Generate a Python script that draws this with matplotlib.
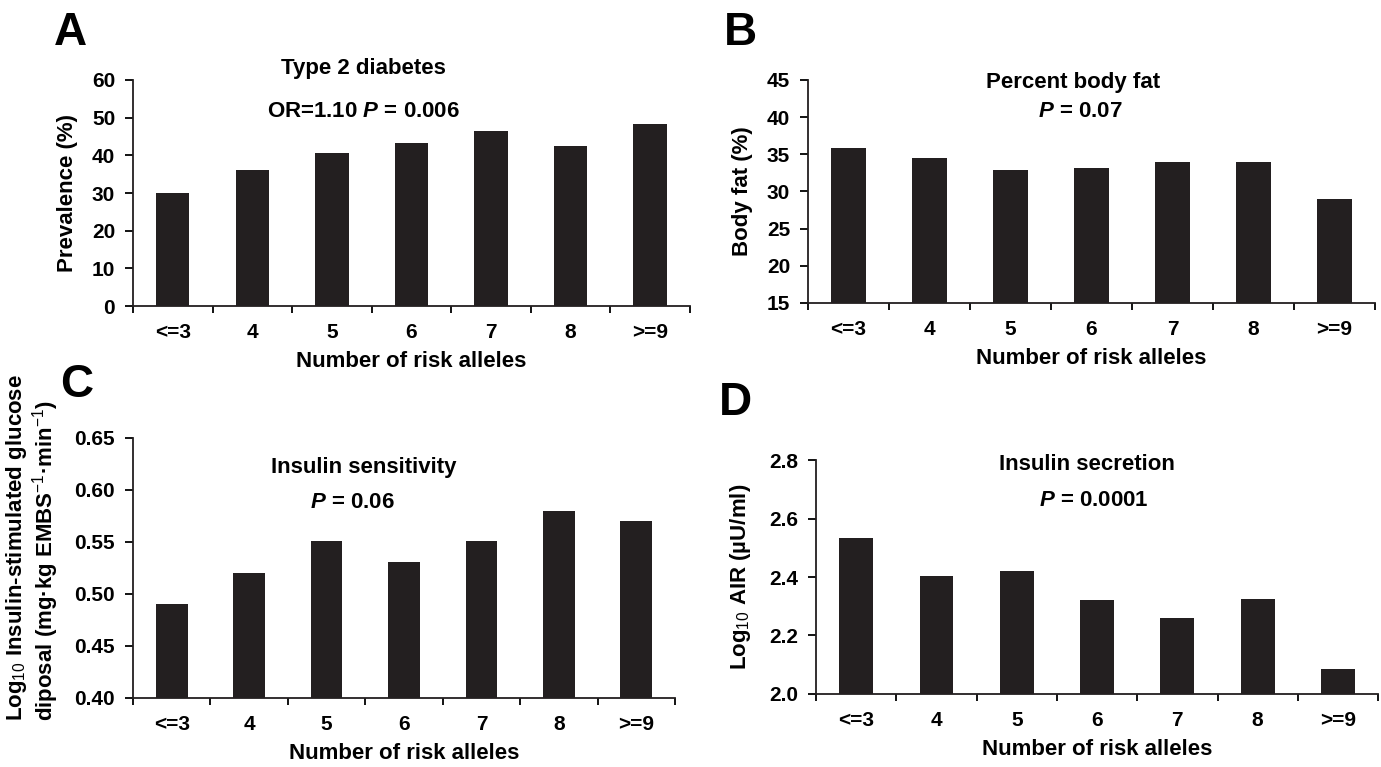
import matplotlib
matplotlib.use('Agg')
import matplotlib.pyplot as plt
import numpy as np
from matplotlib.ticker import FixedLocator, NullFormatter

# Data
categories = ['<=3', '4', '5', '6', '7', '8', '>=9']
diabetes_prev = [30.0, 36.0, 40.5, 43.3, 46.5, 42.4, 48.3]
body_fat = [35.8, 34.5, 32.9, 33.2, 33.9, 33.9, 29.0]
insulin_sens = [0.490, 0.520, 0.551, 0.531, 0.551, 0.580, 0.570]
insulin_secr = [2.535, 2.405, 2.420, 2.320, 2.260, 2.325, 2.085]

fam = ['Liberation Sans', 'DejaVu Sans']

plt.rcParams['mathtext.fontset'] = 'custom'
plt.rcParams['mathtext.rm'] = 'Liberation Sans'
plt.rcParams['mathtext.it'] = 'Liberation Sans:italic:bold'
plt.rcParams['mathtext.bf'] = 'Liberation Sans:bold'

bar_color = '#231f20'

fig = plt.figure(figsize=(13.81, 7.67), dpi=100)


def panel(rect, values, ylim, yticks, yfmt, ylabel, letter, letter_pos,
          title_lines, ylabel_xy, bar_w=0.42):
    ax = fig.add_axes(rect)
    x = np.arange(len(categories)) + 0.5
    ax.bar(x, values, width=bar_w, color=bar_color)
    ax.set_xlim(0, len(categories))
    ax.set_ylim(*ylim)
    ax.spines['top'].set_visible(False)
    ax.spines['right'].set_visible(False)
    for s in ['left', 'bottom']:
        ax.spines[s].set_linewidth(1.3)
        ax.spines[s].set_color('#231f20')
    ax.xaxis.set_major_locator(FixedLocator(np.arange(len(categories) + 1)))
    ax.xaxis.set_major_formatter(NullFormatter())
    ax.set_xticks(x, minor=True)
    ax.set_xticklabels(categories, minor=True, fontfamily=fam,
                       fontweight='bold', fontsize=15)
    ax.tick_params(axis='x', which='major', direction='out', length=5, width=1.3)
    ax.tick_params(axis='x', which='minor', length=0, pad=12)
    ax.set_yticks(yticks)
    ax.set_yticklabels([yfmt.format(v) for v in yticks], fontfamily=fam,
                       fontweight='bold', fontsize=15)
    ax.tick_params(axis='y', direction='out', length=5.8, width=1.3, pad=7)
    ax.set_xlabel('Number of risk alleles', fontfamily=fam, fontweight='bold',
                  fontsize=16, labelpad=7)
    ax.set_ylabel(ylabel, fontfamily=fam, fontweight='bold', fontsize=16,
                  linespacing=1.05, multialignment='left')
    ax.yaxis.set_label_coords(*ylabel_xy)
    fig.text(letter_pos[0], letter_pos[1], letter, fontfamily=fam,
             fontweight='bold', fontsize=33, va='baseline', ha='left')
    for (tx, ty, txt) in title_lines:
        ax.text(tx, ty, txt, transform=ax.transAxes, ha='center', va='center',
                fontfamily=fam, fontweight='bold', fontsize=16)
    return ax


panel([0.0963, 0.601, 0.4033, 0.2947], diabetes_prev, (0, 60),
      [0, 10, 20, 30, 40, 50, 60], '{:.0f}', 'Prevalence (%)', 'A',
      (0.039, 0.9413),
      [(0.413, 1.053, 'Type 2 diabetes'),
       (0.413, 0.86, r'OR=1.10 $\mathit{P}$ = 0.006')], (-0.099, 0.5))

panel([0.585, 0.605, 0.4106, 0.2907], body_fat, (15, 45),
      [15, 20, 25, 30, 35, 40, 45], '{:.0f}', 'Body fat (%)', 'B',
      (0.524, 0.9413),
      [(0.467, 0.987, 'Percent body fat'),
       (0.48, 0.857, r'$\mathit{P}$ = 0.07')], (-0.097, 0.5), bar_w=0.44)

panel([0.0963, 0.09, 0.3925, 0.339], insulin_sens, (0.40, 0.65),
      [0.40, 0.45, 0.50, 0.55, 0.60, 0.65], '{:.2f}',
      'Log$_{10}$ Insulin-stimulated glucose\n'
      'diposal (mg\u00b7kg EMBS$^{-1}$\u00b7min$^{-1}$)', 'C',
      (0.0435, 0.4824),
      [(0.425, 0.885, 'Insulin sensitivity'),
       (0.404, 0.75, r'$\mathit{P}$ = 0.06')], (-0.132, 0.578), bar_w=0.41)

panel([0.5909, 0.0952, 0.407, 0.305], insulin_secr, (2.0, 2.8),
      [2.0, 2.2, 2.4, 2.6, 2.8], '{:.1f}', 'Log$_{10}$ AIR (\u00b5U/ml)', 'D',
      (0.5207, 0.459),
      [(0.482, 0.979, 'Insulin secretion'),
       (0.495, 0.829, r'$\mathit{P}$ = 0.0001')], (-0.112, 0.5))

fig.savefig('out.png', dpi=100)
